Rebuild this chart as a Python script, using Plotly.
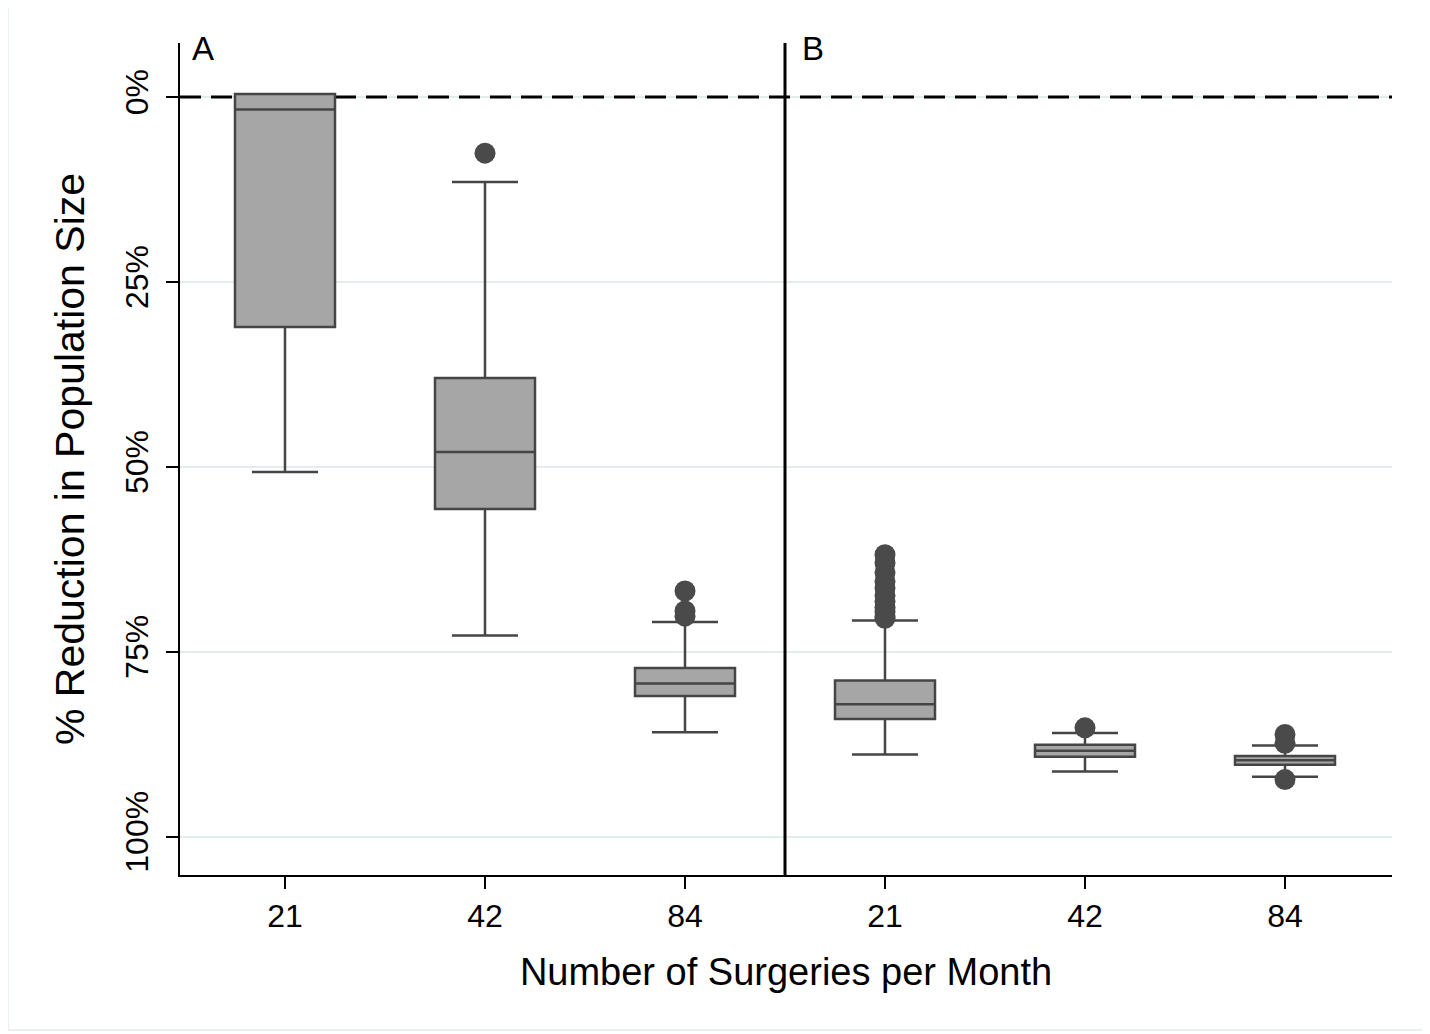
import plotly.graph_objects as go

# ---- data (percent reduction in population size) ----
categories = ["21", "42", "84", "21", "42", "84"]
panels = ["A", "A", "A", "B", "B", "B"]
q1_vals = [-0.4, 38.0, 77.2, 78.9, 87.6, 89.1]
median_vals = [1.7, 48.0, 79.3, 82.1, 88.4, 89.7]
q3_vals = [31.1, 55.7, 81.0, 84.1, 89.2, 90.3]
lower_whisker = [-0.4, 11.5, 71.0, 70.8, 86.0, 87.7]
upper_whisker = [50.7, 72.8, 85.9, 88.9, 91.2, 91.9]
outliers = [
    [],
    [7.6],
    [66.8, 69.5, 70.2],
    [61.9, 63.0, 64.3, 65.5, 66.4, 67.4, 68.2, 69.0, 69.6, 70.2, 70.5],
    [85.3],
    [86.2, 87.4, 92.3],
]
y_ticks = [0, 25, 50, 75, 100]
y_tick_text = ["0%", "25%", "50%", "75%", "100%"]

FONT = "Liberation Sans, Arial, Helvetica, sans-serif"
W, H = 1430, 1034
OFF = 8  # page body margin
# target plot-area edges in page pixels
PL, PR, PT, PB = 180, 1392, 43, 875
ML, MT = PL - OFF, PT - OFF
MR = W - (PR - OFF)
MB = H - (PB - OFF)
pw, ph = PR - PL, PB - PT


def px_x(x):
    return (x - PL) / pw


def px_y(y):
    return (PB - y) / ph


positions = list(range(len(categories)))

fig = go.Figure()
fig.add_trace(go.Box(
    x=positions,
    q1=q1_vals,
    median=median_vals,
    q3=q3_vals,
    lowerfence=lower_whisker,
    upperfence=upper_whisker,
    boxpoints=False,
    width=0.5,
    whiskerwidth=0.66,
    fillcolor="#a6a6a6",
    line=dict(color="#454545", width=2.5),
    showlegend=False,
    hoverinfo="skip",
))

ox, oy = [], []
for p, vals in zip(positions, outliers):
    for v in vals:
        ox.append(p)
        oy.append(v)
fig.add_trace(go.Scatter(
    x=ox, y=oy, mode="markers",
    marker=dict(size=21, color="#4a4a4a", line=dict(width=0)),
    showlegend=False, hoverinfo="skip",
))

xmin, xmax = -0.525, 5.535
# dashed zero reference line (behind the boxes)
fig.add_shape(type="line", xref="x", yref="y", x0=xmin, x1=xmax, y0=0, y1=0,
              line=dict(color="black", width=3, dash="21px,10px"), layer="between")
# zero-line tick extension
fig.add_shape(type="line", xref="paper", yref="y", x0=px_x(167), x1=0, y0=0, y1=0,
              line=dict(color="black", width=2), layer="above")
# panel separator
fig.add_shape(type="line", xref="x", yref="paper", x0=2.5, x1=2.5, y0=0, y1=1,
              line=dict(color="black", width=3), layer="above")
# faint outer frame
fig.add_shape(type="rect", xref="paper", yref="paper",
              x0=px_x(8), x1=px_x(1427), y0=px_y(1030), y1=px_y(6),
              line=dict(color="#e8f0f0", width=2), layer="below")

# panel labels
fig.add_annotation(x=px_x(203), y=px_y(48), xref="paper", yref="paper", text="A",
                   showarrow=False, xanchor="center", yanchor="middle",
                   font=dict(family=FONT, size=33, color="black"))
fig.add_annotation(x=px_x(813), y=px_y(48), xref="paper", yref="paper", text="B",
                   showarrow=False, xanchor="center", yanchor="middle",
                   font=dict(family=FONT, size=33, color="black"))

fig.update_layout(
    width=W, height=H,
    margin=dict(l=ML, r=MR, t=MT, b=MB),
    paper_bgcolor="white", plot_bgcolor="white",
    font=dict(family=FONT, color="black"),
    xaxis=dict(
        range=[xmin, xmax],
        tickmode="array", tickvals=positions, ticktext=categories,
        tickfont=dict(size=32, family=FONT),
        ticks="outside", ticklen=12, tickwidth=2, tickcolor="black",
        showline=True, linecolor="black", linewidth=2,
        showgrid=False, zeroline=False,
        title=dict(text="Number of Surgeries per Month", font=dict(size=38, family=FONT), standoff=25),
    ),
    yaxis=dict(
        range=[105.2, -7.3],
        tickmode="array", tickvals=y_ticks, ticktext=y_tick_text,
        tickangle=-90,
        tickfont=dict(size=32, family=FONT),
        ticklabelstandoff=5,
        ticks="outside", ticklen=12, tickwidth=2, tickcolor="black",
        showline=True, linecolor="black", linewidth=2,
        showgrid=True, gridcolor="#e2eded", gridwidth=2,
        zeroline=False,
        title=dict(text="% Reduction in Population Size", font=dict(size=41, family=FONT), standoff=22),
    ),
)

fig.write_html("out.html")
